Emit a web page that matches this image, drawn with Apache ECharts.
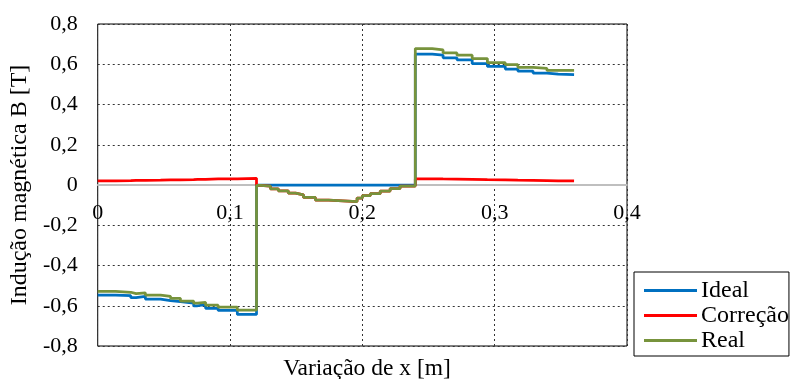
<!DOCTYPE html>
<html><head><meta charset="utf-8">
<script src="https://cdn.jsdelivr.net/npm/echarts@6/dist/echarts.min.js"></script>
<style>html,body{margin:0;padding:0;background:#fff}#c{width:793px;height:379px}</style>
</head><body><div id="c"></div>
<script>
// Step breakpoints (x in m) and values (B in T)
const leftX  = [0, 0.0135, 0.015, 0.025, 0.029, 0.036, 0.0475, 0.055, 0.0625, 0.0725, 0.0755, 0.0815, 0.091, 0.1055];
const idealLeft = [-0.547, -0.54, -0.55, -0.56, -0.553, -0.567, -0.574, -0.58, -0.587, -0.6, -0.594, -0.613, -0.623, -0.643];
const realLeft  = [-0.528, -0.522, -0.533, -0.54, -0.536, -0.547, -0.553, -0.563, -0.577, -0.587, -0.583, -0.597, -0.607, -0.622];
const corrLeft  = [0.021, 0.022, 0.022, 0.023, 0.023, 0.024, 0.025, 0.026, 0.027, 0.028, 0.028, 0.030, 0.031, 0.033];

const midX = [0.12, 0.123, 0.1305, 0.1365, 0.144, 0.1495, 0.1555, 0.1645, 0.1745, 0.196, 0.2, 0.206, 0.2135, 0.221, 0.2285];
const idealMid = [0, 0, 0, 0, 0, 0, 0, 0, 0, 0, 0, 0, 0, 0, 0];
const realMid  = [-0.002, -0.006, -0.019, -0.029, -0.04, -0.049, -0.062, -0.075, -0.082, -0.065, -0.053, -0.043, -0.03, -0.018, -0.005];
const corrMid  = [-0.002, -0.006, -0.019, -0.029, -0.04, -0.049, -0.062, -0.075, -0.082, -0.065, -0.053, -0.043, -0.03, -0.018, -0.005];

const rightX = [0.24, 0.2528, 0.261, 0.2715, 0.283, 0.2945, 0.308, 0.3175, 0.329, 0.3395, 0.348];
const idealRight = [0.65, 0.645, 0.632, 0.622, 0.603, 0.589, 0.576, 0.566, 0.556, 0.551, 0.549];
const realRight  = [0.678, 0.671, 0.656, 0.645, 0.628, 0.608, 0.598, 0.585, 0.579, 0.569, 0.569];
const corrRight  = [0.031, 0.030, 0.029, 0.028, 0.027, 0.026, 0.024, 0.023, 0.022, 0.021, 0.020];
const xEnd = 0.36;

const seriesNames = ['Ideal', 'Correção', 'Real'];
const colors = ['#0070C0', '#FF0000', '#77933C'];
const yTicks = ['-0,8','-0,6','-0,4','-0,2','0','0,2','0,4','0,6','0,8'];
const xTicks = ['0','0,1','0,2','0,3','0,4'];

function build(l, m, r) {
  const d = [];
  leftX.forEach((x, i) => d.push([x, l[i]]));
  midX.forEach((x, i) => d.push([x, m[i]]));
  rightX.forEach((x, i) => d.push([x, r[i]]));
  d.push([xEnd, r[r.length - 1]]);
  return d;
}
const dataSets = [
  build(idealLeft, idealMid, idealRight),
  build(corrLeft, corrMid, corrRight),
  build(realLeft, realMid, realRight)
];

const font = "'Liberation Serif','Times New Roman',serif";
const gridTop = 24, gridBottom = 33, H = 379;
const zeroOffset = -((H - gridBottom) - (gridTop + (H - gridBottom - gridTop) / 2));
const chart = echarts.init(document.getElementById('c'));
chart.setOption({
  animation: false,
  title: {
    text: 'Variação de x [m]', left: 362, top: 352, textAlign: 'center',
    textStyle: { fontFamily: font, fontSize: 23.5, fontWeight: 'normal', color: '#000' }
  },
  grid: { left: 97, right: 166, top: gridTop, bottom: gridBottom, show: true, borderColor: '#000', borderWidth: 1 },
  legend: {
    orient: 'vertical', left: 634, top: 272,
    borderColor: '#000', borderWidth: 1, padding: [6, 0, 3, 10],
    itemWidth: 53, itemHeight: 3, itemGap: 0, icon: 'rect',
    textStyle: { fontFamily: font, fontSize: 24, color: '#000', lineHeight: 25, padding: [0, 0, 0, -1] },
    data: seriesNames
  },
  xAxis: {
    type: 'value', min: 0, max: 0.4, interval: 0.1,
    offset: zeroOffset,
    axisLine: { onZero: false, lineStyle: { color: '#BFBFBF', width: 2 } },
    axisTick: { show: false },
    axisLabel: { fontFamily: font, fontSize: 22, color: '#000', margin: 17,
      formatter: v => xTicks[Math.round(v * 10)] },
    splitLine: { show: true, lineStyle: { color: '#333', type: [2, 3], width: 1 } }
  },
  yAxis: {
    type: 'value', min: -0.8, max: 0.8, interval: 0.2,
    name: 'Indução magnética B [T]', nameLocation: 'middle', nameGap: 61,
    nameTextStyle: { fontFamily: font, fontSize: 24, color: '#000' },
    axisLine: { show: false },
    axisTick: { show: false },
    axisLabel: { fontFamily: font, fontSize: 22, color: '#000', margin: 20,
      formatter: v => yTicks[Math.round((v + 0.8) / 0.2)] },
    splitLine: { show: true, lineStyle: { color: '#333', type: [2, 3], width: 1 } }
  },
  series: seriesNames.map((n, i) => ({
    name: n, type: 'line', step: 'end', symbol: 'none',
    data: dataSets[i], color: colors[i],
    lineStyle: { width: 2.75, color: colors[i] }
  }))
});
</script></body></html>
